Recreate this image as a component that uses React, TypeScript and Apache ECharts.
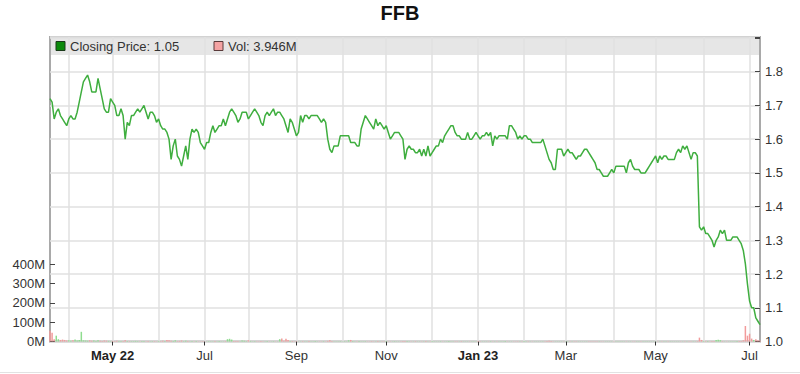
import { useEffect, useRef } from "react";
import * as echarts from "echarts";

// Closing prices, one per trading (week)day starting 2022-03-21
const prices: number[] = [
  1.72, 1.71, 1.66, 1.68, 1.69, 1.67, 1.66, 1.65, 1.64, 1.66,
  1.67, 1.66, 1.66, 1.68, 1.71, 1.74, 1.77, 1.78, 1.79, 1.77,
  1.74, 1.74, 1.74, 1.78, 1.75, 1.72, 1.69, 1.68, 1.68, 1.72,
  1.71, 1.70, 1.67, 1.67, 1.69, 1.67, 1.60, 1.65, 1.64, 1.67,
  1.67, 1.68, 1.69, 1.68, 1.69, 1.70, 1.68, 1.66, 1.68, 1.68,
  1.67, 1.65, 1.66, 1.64, 1.63, 1.63, 1.62, 1.60, 1.54, 1.58,
  1.60, 1.55, 1.54, 1.52, 1.55, 1.58, 1.54, 1.60, 1.63, 1.62,
  1.63, 1.62, 1.59, 1.58, 1.57, 1.59, 1.59, 1.62, 1.64, 1.62,
  1.63, 1.64, 1.64, 1.66, 1.64, 1.66, 1.68, 1.69, 1.68, 1.67,
  1.65, 1.66, 1.68, 1.68, 1.68, 1.66, 1.67, 1.68, 1.69, 1.68,
  1.67, 1.65, 1.64, 1.67, 1.68, 1.67, 1.68, 1.69, 1.67, 1.68,
  1.68, 1.67, 1.66, 1.64, 1.62, 1.66, 1.65, 1.63, 1.61, 1.62,
  1.67, 1.65, 1.67, 1.67, 1.66, 1.67, 1.67, 1.67, 1.67, 1.66,
  1.65, 1.66, 1.65, 1.60, 1.57, 1.56, 1.58, 1.58, 1.58, 1.61,
  1.61, 1.61, 1.61, 1.61, 1.59, 1.59, 1.59, 1.58, 1.58, 1.63,
  1.65, 1.67, 1.66, 1.65, 1.64, 1.63, 1.66, 1.64, 1.65, 1.64,
  1.63, 1.64, 1.62, 1.60, 1.61, 1.62, 1.62, 1.62, 1.61, 1.60,
  1.54, 1.57, 1.58, 1.57, 1.57, 1.56, 1.56, 1.57, 1.55, 1.57,
  1.55, 1.58, 1.55, 1.56, 1.57, 1.58, 1.58, 1.60, 1.59, 1.61,
  1.62, 1.63, 1.64, 1.64, 1.62, 1.61, 1.61, 1.60, 1.60, 1.60,
  1.62, 1.60, 1.60, 1.61, 1.62, 1.61, 1.60, 1.61, 1.61, 1.62,
  1.61, 1.62, 1.58, 1.61, 1.60, 1.61, 1.61, 1.61, 1.61, 1.60,
  1.64, 1.64, 1.63, 1.62, 1.60, 1.61, 1.60, 1.61, 1.61, 1.60,
  1.60, 1.59, 1.59, 1.59, 1.59, 1.59, 1.60, 1.58, 1.56, 1.54,
  1.53, 1.51, 1.51, 1.57, 1.57, 1.57, 1.55, 1.56, 1.57, 1.56,
  1.56, 1.55, 1.54, 1.55, 1.55, 1.56, 1.57, 1.57, 1.56, 1.55,
  1.54,
  1.53, 1.51, 1.51, 1.50, 1.49, 1.49, 1.49, 1.50, 1.51, 1.50,
  1.52, 1.52, 1.52, 1.52, 1.52, 1.50, 1.53, 1.54, 1.52, 1.51,
  1.51, 1.51, 1.50, 1.50, 1.50, 1.51, 1.52, 1.53, 1.54, 1.55,
  1.53, 1.55, 1.54, 1.55, 1.55, 1.54, 1.54, 1.54, 1.54, 1.56,
  1.57, 1.56, 1.58, 1.57, 1.58, 1.56, 1.54, 1.56, 1.56, 1.55,
  1.34, 1.33, 1.34, 1.32, 1.32, 1.31, 1.30, 1.28, 1.30, 1.31,
  1.33, 1.32, 1.33, 1.30, 1.30, 1.30, 1.31, 1.31, 1.31, 1.30,
  1.29, 1.27, 1.23, 1.17, 1.12, 1.10, 1.10, 1.07, 1.06, 1.05,
];

// Volume in millions, one per trading day
const volumesM: number[] = [
  55, 45, 12, 30, 12, 8, 10, 8, 5, 6,
  4, 6, 10, 5, 8, 50, 6, 5, 4, 6,
  4, 5, 3, 6, 4, 3, 5, 4, 3, 2,
  3, 2, 4, 3, 2, 3, 6, 3, 2, 2,
  2, 3, 2, 1, 2, 2, 1, 2, 1, 2,
  2, 1, 3, 2, 4, 2, 8, 6, 4, 3,
  6, 2, 3, 5, 2, 4, 2, 1, 2, 1,
  2, 1, 1, 2, 1, 1, 2, 1, 1, 2,
  1, 2, 1, 1, 2, 12, 14, 10, 3, 2,
  2, 1, 5, 4, 2, 6, 3, 1, 2, 1,
  1, 2, 1, 1, 2, 1, 1, 2, 1, 1,
  12, 16, 4, 14, 8, 3, 2, 1, 2, 1,
  1, 2, 1, 1, 2, 1, 1, 2, 1, 1,
  1, 2, 1, 3, 6, 2, 1, 1, 1, 2,
  1, 2, 1, 6, 8, 3, 1, 1, 2, 1,
  1, 2, 1, 1, 2, 1, 1, 2, 1, 1,
  1, 2, 1, 1, 1, 2, 1, 1, 1, 2,
  3, 2, 1, 1, 1, 2, 1, 1, 1, 1,
  2, 1, 1, 2, 1, 1, 1, 2, 1, 1,
  1, 2, 1, 1, 1, 1, 1, 2, 1, 1,
  1, 1, 1, 1, 1, 2, 1, 1, 1, 1,
  1, 2, 1, 1, 1, 1, 1, 1, 2, 1,
  1, 1, 1, 1, 1, 1, 1, 2, 1, 1,
  1, 1, 1, 1, 1, 1, 1, 1, 2, 4,
  2, 1, 1, 1, 1, 1, 1, 1, 1, 1,
  1, 1, 1, 1, 1, 1, 1, 1, 1, 1,
  1,
  1, 1, 1, 1, 1, 1, 1, 1, 1, 1,
  1, 1, 1, 1, 1, 1, 1, 1, 1, 1,
  1, 1, 1, 1, 1, 1, 1, 1, 1, 1,
  1, 1, 1, 1, 1, 1, 1, 1, 1, 1,
  1, 1, 1, 1, 1, 1, 1, 1, 1, 2,
  20, 8, 3, 2, 2, 1, 2, 3, 8, 9,
  7, 2, 1, 1, 1, 1, 1, 1, 2, 2,
  3, 6, 80, 30, 40, 15, 8, 12, 6, 3.946,
];

const TITLE = "FFB";
const START_DATE = Date.UTC(2022, 2, 21);
const MONTHS = ["Jan", "Feb", "Mar", "Apr", "May", "Jun", "Jul", "Aug", "Sep", "Oct", "Nov", "Dec"];
const VOL_TICKS_MAX = 400;
const PRICE_MIN = 1.0;

function buildDates(n: number): string[] {
  const out: string[] = [];
  let t = START_DATE;
  while (out.length < n) {
    const d = new Date(t);
    const wd = d.getUTCDay();
    if (wd !== 0 && wd !== 6) out.push(d.toISOString().slice(0, 10));
    t += 86400000;
  }
  return out;
}

const dates = buildDates(prices.length);
const monthStart = dates.map((d, i) => i > 0 && d.slice(5, 7) !== dates[i - 1].slice(5, 7));
const labeled = dates.map((d, i) => monthStart[i] && parseInt(d.slice(5, 7), 10) % 2 === 1);
const firstLabeled = labeled.indexOf(true);

const FONT = "'Liberation Sans', Arial, sans-serif";

export default function App() {
  const ref = useRef<HTMLDivElement>(null);

  useEffect(() => {
    if (!ref.current) return;
    const chart = echarts.init(ref.current, undefined, { renderer: "svg" });
    const last = prices.length - 1;
    const volColors = volumesM.map((_, i) =>
      i > 0 && prices[i] >= prices[i - 1] ? "#8fdc8f" : "#f29b9b"
    );

    const left = 50;
    const right = 40;
    const plotTop = 37;
    const plotBottom = 341.5;
    const pxPerUnit = (plotBottom - 71.7) / 0.8;
    const priceMax = PRICE_MIN + (plotBottom - plotTop) / pxPerUnit;

    chart.setOption({
      animation: false,
      backgroundColor: "#ffffff",
      textStyle: { fontFamily: FONT },
      title: {
        text: TITLE,
        left: "center",
        top: -2,
        textStyle: { fontSize: 20, fontWeight: "bold", color: "#111", fontFamily: FONT },
      },
      grid: [
        {
          left,
          right,
          top: plotTop,
          bottom: 374 - plotBottom,
          show: true,
          borderColor: "#a9a9a9",
          borderWidth: 2,
        },
        {
          left,
          right,
          top: 264,
          bottom: 374 - plotBottom,
        },
      ],
      xAxis: [
        {
          type: "category",
          gridIndex: 0,
          data: dates,
          boundaryGap: false,
          axisLine: { show: false },
          axisTick: {
            show: true,
            inside: false,
            length: 4,
            interval: (i: number) => labeled[i],
            lineStyle: { color: "#333" },
          },
          axisLabel: {
            interval: (i: number) => labeled[i],
            margin: 7,
            color: "#333",
            fontSize: 13,
            formatter: (v: string, i: number) => {
              const m = parseInt(v.slice(5, 7), 10);
              const name = MONTHS[m - 1];
              if (m === 1 || i === firstLabeled) return `{b|${name} ${v.slice(2, 4)}}`;
              return `{n|${name}}`;
            },
            rich: {
              b: { fontWeight: "bold", fontSize: 13, color: "#222", fontFamily: FONT },
              n: { fontSize: 13, color: "#333", fontFamily: FONT },
            },
          },
          splitLine: {
            show: true,
            interval: (i: number) => monthStart[i],
            lineStyle: { color: "#e0e0e0", width: 1.5 },
          },
        },
        {
          type: "category",
          gridIndex: 1,
          data: dates,
          boundaryGap: false,
          show: false,
        },
      ],
      yAxis: [
        {
          type: "value",
          gridIndex: 0,
          position: "right",
          min: PRICE_MIN,
          max: priceMax,
          interval: 0.1,
          axisLine: { show: false },
          axisTick: { show: true, inside: true, length: 5, lineStyle: { color: "#444" } },
          axisLabel: {
            margin: 5,
            color: "#333",
            fontSize: 13,
            formatter: (v: number) => (v > 1.85 ? "" : v.toFixed(1)),
          },
          splitLine: { show: true, lineStyle: { color: "#e0e0e0", width: 1.5 } },
        },
        {
          type: "value",
          gridIndex: 1,
          position: "left",
          min: 0,
          max: VOL_TICKS_MAX,
          interval: 100,
          axisLine: { show: false },
          axisTick: { show: true, inside: true, length: 5, lineStyle: { color: "#444" } },
          axisLabel: {
            margin: 5,
            color: "#333",
            fontSize: 13,
            formatter: (v: number) => `${v}M`,
          },
          splitLine: { show: false },
        },
      ],
      graphic: [
        {
          type: "rect",
          z: -1,
          shape: { x: left, y: plotTop, width: 800 - left - right, height: 18 },
          style: { fill: "#e6e6e6" },
        },
        {
          type: "rect",
          z: 10,
          shape: { x: 56, y: 41.5, width: 9, height: 9 },
          style: { fill: "#0b8a0b", stroke: "#1a3a1a", lineWidth: 1 },
        },
        {
          type: "text",
          z: 10,
          x: 70,
          y: 46.5,
          style: {
            text: `Closing Price: ${prices[last].toFixed(2)}`,
            fill: "#333",
            font: `13px ${FONT}`,
            verticalAlign: "middle",
          },
        },
        {
          type: "rect",
          z: 10,
          shape: { x: 214, y: 41.5, width: 9, height: 9 },
          style: { fill: "#f4a3a3", stroke: "#5a3a3a", lineWidth: 1 },
        },
        {
          type: "text",
          z: 10,
          x: 228,
          y: 46.5,
          style: {
            text: `Vol: ${volumesM[last]}M`,
            fill: "#333",
            font: `13px ${FONT}`,
            verticalAlign: "middle",
          },
        },
        {
          type: "line",
          shape: { x1: 0, y1: 372.5, x2: 800, y2: 372.5 },
          style: { stroke: "#e2e2e2", lineWidth: 1 },
        },
      ],
      series: [
        {
          name: "Vol",
          type: "bar",
          xAxisIndex: 1,
          yAxisIndex: 1,
          barWidth: 1.5,
          z: 2,
          data: volumesM.map((v, i) => ({ value: v, itemStyle: { color: volColors[i] } })),
        },
        {
          name: "Closing Price",
          type: "line",
          xAxisIndex: 0,
          yAxisIndex: 0,
          data: prices,
          showSymbol: false,
          symbol: "none",
          z: 3,
          lineStyle: { color: "#3fae3f", width: 1.5 },
        },
      ],
    });

    return () => chart.dispose();
  }, []);

  return (
    <div
      ref={ref}
      style={{ position: "fixed", left: 0, top: 0, width: 800, height: 374, background: "#fff" }}
    />
  );
}
